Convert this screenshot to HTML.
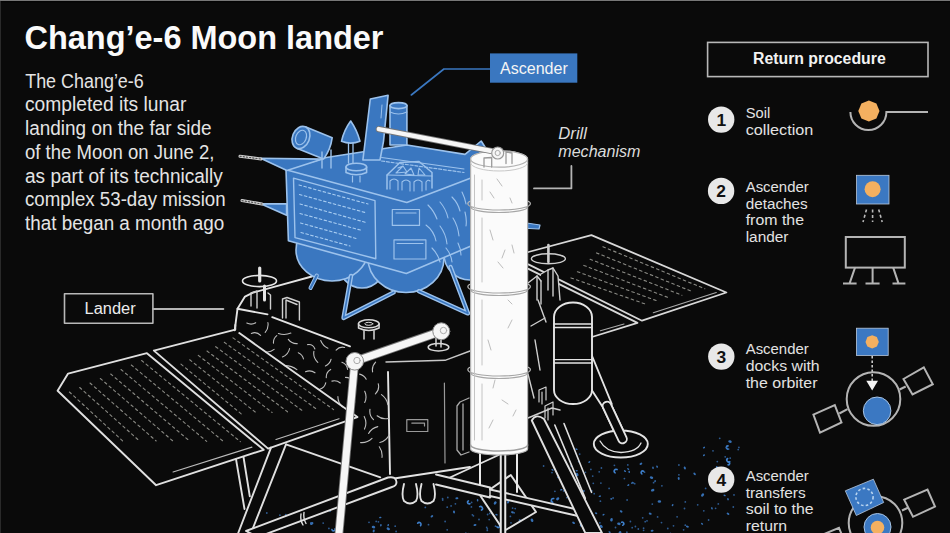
<!DOCTYPE html>
<html><head><meta charset="utf-8">
<style>
html,body{margin:0;padding:0;background:#0a0a0a;width:950px;height:533px;overflow:hidden}
svg{display:block}
text{font-family:"Liberation Sans",sans-serif}
</style></head>
<body>
<svg width="950" height="533" viewBox="0 0 950 533">
<rect x="0" y="0" width="950" height="533" fill="#0a0a0a"/>
<!-- ILLUSTRATION -->
<g id="illus" stroke-linejoin="round" stroke-linecap="round">
<g id="dust"><circle cx="554.9" cy="491.3" r="0.9" fill="#3468a8" opacity="0.85"/><circle cx="647.0" cy="520.8" r="0.9" fill="#3468a8" opacity="0.85"/><ellipse cx="728.0" cy="513.8" rx="1.5" ry="1.0" fill="#3b7bc6" opacity="0.9" transform="rotate(36 728.0 513.8)"/><circle cx="599.9" cy="522.8" r="0.9" fill="#3468a8" opacity="0.85"/><circle cx="733.3" cy="507.0" r="0.9" fill="#3468a8" opacity="0.85"/><path d="M551.3,500.4 a1.9,1.9 0 0 0 3.8,0" fill="none" stroke="#3f80cc" stroke-width="1.6" transform="rotate(105 553.2 500.4)"/><ellipse cx="670.8" cy="533.7" rx="1.2" ry="0.8" fill="#3b7bc6" opacity="0.9" transform="rotate(50 670.8 533.7)"/><ellipse cx="609.6" cy="532.2" rx="1.2" ry="0.8" fill="#3b7bc6" opacity="0.9" transform="rotate(44 609.6 532.2)"/><circle cx="592.7" cy="476.1" r="0.9" fill="#3468a8" opacity="0.85"/><ellipse cx="599.8" cy="496.2" rx="1.2" ry="0.8" fill="#3b7bc6" opacity="0.9" transform="rotate(166 599.8 496.2)"/><circle cx="708.6" cy="520.0" r="0.9" fill="#3468a8" opacity="0.85"/><ellipse cx="716.8" cy="479.2" rx="1.2" ry="0.8" fill="#3b7bc6" opacity="0.9" transform="rotate(85 716.8 479.2)"/><circle cx="614.4" cy="465.3" r="0.9" fill="#3468a8" opacity="0.85"/><circle cx="684.5" cy="508.5" r="0.9" fill="#3468a8" opacity="0.85"/><circle cx="634.7" cy="483.7" r="0.9" fill="#3468a8" opacity="0.85"/><ellipse cx="652.1" cy="530.8" rx="1.5" ry="1.0" fill="#3b7bc6" opacity="0.9" transform="rotate(169 652.1 530.8)"/><circle cx="613.1" cy="498.0" r="0.9" fill="#3468a8" opacity="0.85"/><circle cx="734.0" cy="494.9" r="0.9" fill="#3468a8" opacity="0.85"/><ellipse cx="650.2" cy="513.7" rx="1.5" ry="1.0" fill="#3b7bc6" opacity="0.9" transform="rotate(19 650.2 513.7)"/><circle cx="580.7" cy="510.1" r="0.9" fill="#3468a8" opacity="0.85"/><circle cx="715.6" cy="508.3" r="0.9" fill="#3468a8" opacity="0.85"/><circle cx="644.5" cy="534.1" r="0.9" fill="#3468a8" opacity="0.85"/><circle cx="626.9" cy="532.2" r="0.9" fill="#3468a8" opacity="0.85"/><circle cx="632.2" cy="527.7" r="0.9" fill="#3468a8" opacity="0.85"/><circle cx="720.3" cy="477.2" r="0.9" fill="#3468a8" opacity="0.85"/><circle cx="565.1" cy="507.9" r="0.9" fill="#3468a8" opacity="0.85"/><circle cx="705.6" cy="488.4" r="0.9" fill="#3468a8" opacity="0.85"/><circle cx="573.4" cy="489.5" r="0.9" fill="#3468a8" opacity="0.85"/><circle cx="599.2" cy="471.8" r="0.9" fill="#3468a8" opacity="0.85"/><ellipse cx="557.7" cy="498.8" rx="1.8" ry="1.3" fill="#3b7bc6" opacity="0.9" transform="rotate(136 557.7 498.8)"/><circle cx="683.6" cy="529.8" r="0.9" fill="#3468a8" opacity="0.85"/><circle cx="609.1" cy="488.4" r="0.9" fill="#3468a8" opacity="0.85"/><ellipse cx="657.1" cy="466.7" rx="1.2" ry="0.8" fill="#3b7bc6" opacity="0.9" transform="rotate(66 657.1 466.7)"/><circle cx="600.4" cy="501.2" r="0.9" fill="#3468a8" opacity="0.85"/><circle cx="627.1" cy="500.0" r="0.9" fill="#3468a8" opacity="0.85"/><ellipse cx="629.2" cy="471.9" rx="1.2" ry="0.8" fill="#3b7bc6" opacity="0.9" transform="rotate(83 629.2 471.9)"/><circle cx="652.3" cy="504.1" r="0.9" fill="#3468a8" opacity="0.85"/><circle cx="587.1" cy="510.1" r="0.9" fill="#3468a8" opacity="0.85"/><ellipse cx="652.7" cy="490.2" rx="1.8" ry="1.3" fill="#3b7bc6" opacity="0.9" transform="rotate(163 652.7 490.2)"/><circle cx="563.6" cy="490.9" r="0.9" fill="#3468a8" opacity="0.85"/><circle cx="677.1" cy="516.8" r="0.9" fill="#3468a8" opacity="0.85"/><circle cx="615.5" cy="527.5" r="0.9" fill="#3468a8" opacity="0.85"/><circle cx="638.3" cy="529.0" r="0.9" fill="#3468a8" opacity="0.85"/><circle cx="661.9" cy="485.8" r="0.9" fill="#3468a8" opacity="0.85"/><ellipse cx="687.4" cy="526.6" rx="1.5" ry="1.0" fill="#3b7bc6" opacity="0.9" transform="rotate(15 687.4 526.6)"/><ellipse cx="618.9" cy="523.8" rx="1.8" ry="1.3" fill="#3b7bc6" opacity="0.9" transform="rotate(10 618.9 523.8)"/><ellipse cx="702.1" cy="523.8" rx="1.2" ry="0.8" fill="#3b7bc6" opacity="0.9" transform="rotate(37 702.1 523.8)"/><path d="M641.1,472.6 a1.6,1.6 0 0 0 3.2,0" fill="none" stroke="#3f80cc" stroke-width="1.6" transform="rotate(123 642.7 472.6)"/><circle cx="586.9" cy="514.8" r="0.9" fill="#3468a8" opacity="0.85"/><ellipse cx="583.8" cy="491.0" rx="1.2" ry="0.8" fill="#3b7bc6" opacity="0.9" transform="rotate(174 583.8 491.0)"/><ellipse cx="728.0" cy="499.2" rx="1.2" ry="0.8" fill="#3b7bc6" opacity="0.9" transform="rotate(75 728.0 499.2)"/><circle cx="643.6" cy="528.2" r="0.9" fill="#3468a8" opacity="0.85"/><circle cx="555.9" cy="508.8" r="0.9" fill="#3468a8" opacity="0.85"/><ellipse cx="596.1" cy="532.2" rx="1.2" ry="0.8" fill="#3b7bc6" opacity="0.9" transform="rotate(41 596.1 532.2)"/><circle cx="582.2" cy="517.5" r="0.9" fill="#3468a8" opacity="0.85"/><ellipse cx="601.2" cy="526.4" rx="1.8" ry="1.3" fill="#3b7bc6" opacity="0.9" transform="rotate(45 601.2 526.4)"/><ellipse cx="587.1" cy="505.5" rx="1.5" ry="1.0" fill="#3b7bc6" opacity="0.9" transform="rotate(96 587.1 505.5)"/><circle cx="653.6" cy="482.7" r="0.9" fill="#3468a8" opacity="0.85"/><circle cx="673.5" cy="525.8" r="0.9" fill="#3468a8" opacity="0.85"/><circle cx="657.6" cy="516.9" r="0.9" fill="#3468a8" opacity="0.85"/><path d="M620.6,523.7 a1.6,1.6 0 0 0 3.2,0" fill="none" stroke="#3f80cc" stroke-width="1.6" transform="rotate(249 622.2 523.7)"/><circle cx="661.5" cy="522.6" r="0.9" fill="#3468a8" opacity="0.85"/><circle cx="624.4" cy="478.6" r="0.9" fill="#3468a8" opacity="0.85"/><circle cx="685.3" cy="501.9" r="0.9" fill="#3468a8" opacity="0.85"/><ellipse cx="573.6" cy="522.8" rx="1.5" ry="1.0" fill="#3b7bc6" opacity="0.9" transform="rotate(26 573.6 522.8)"/><ellipse cx="621.1" cy="511.4" rx="1.5" ry="1.0" fill="#3b7bc6" opacity="0.9" transform="rotate(35 621.1 511.4)"/><ellipse cx="653.0" cy="467.8" rx="1.2" ry="0.8" fill="#3b7bc6" opacity="0.9" transform="rotate(82 653.0 467.8)"/><ellipse cx="678.7" cy="478.4" rx="1.5" ry="1.0" fill="#3b7bc6" opacity="0.9" transform="rotate(83 678.7 478.4)"/><ellipse cx="641.5" cy="535.6" rx="1.5" ry="1.0" fill="#3b7bc6" opacity="0.9" transform="rotate(100 641.5 535.6)"/><circle cx="593.3" cy="483.3" r="0.9" fill="#3468a8" opacity="0.85"/><circle cx="611.2" cy="498.8" r="0.9" fill="#3468a8" opacity="0.85"/><ellipse cx="589.4" cy="514.0" rx="1.8" ry="1.3" fill="#3b7bc6" opacity="0.9" transform="rotate(180 589.4 514.0)"/><circle cx="594.2" cy="493.7" r="0.9" fill="#3468a8" opacity="0.85"/><ellipse cx="581.2" cy="524.9" rx="1.8" ry="1.3" fill="#3b7bc6" opacity="0.9" transform="rotate(115 581.2 524.9)"/><ellipse cx="596.1" cy="513.2" rx="1.2" ry="0.8" fill="#3b7bc6" opacity="0.9" transform="rotate(26 596.1 513.2)"/><circle cx="630.4" cy="521.5" r="0.9" fill="#3468a8" opacity="0.85"/><ellipse cx="659.4" cy="501.5" rx="1.8" ry="1.3" fill="#3b7bc6" opacity="0.9" transform="rotate(2 659.4 501.5)"/><circle cx="678.9" cy="465.0" r="0.9" fill="#3468a8" opacity="0.85"/><circle cx="601.4" cy="468.0" r="0.9" fill="#3468a8" opacity="0.85"/><path d="M614.2,471.2 a1.9,1.9 0 0 0 3.8,0" fill="none" stroke="#3f80cc" stroke-width="1.6" transform="rotate(120 616.1 471.2)"/><ellipse cx="655.1" cy="481.1" rx="1.2" ry="0.8" fill="#3b7bc6" opacity="0.9" transform="rotate(100 655.1 481.1)"/><ellipse cx="578.6" cy="501.2" rx="1.5" ry="1.0" fill="#3b7bc6" opacity="0.9" transform="rotate(127 578.6 501.2)"/><ellipse cx="632.1" cy="482.9" rx="1.2" ry="0.8" fill="#3b7bc6" opacity="0.9" transform="rotate(121 632.1 482.9)"/><ellipse cx="651.5" cy="477.6" rx="1.8" ry="1.3" fill="#3b7bc6" opacity="0.9" transform="rotate(23 651.5 477.6)"/><ellipse cx="640.9" cy="463.8" rx="1.5" ry="1.0" fill="#3b7bc6" opacity="0.9" transform="rotate(149 640.9 463.8)"/><circle cx="641.1" cy="535.1" r="0.9" fill="#3468a8" opacity="0.85"/><circle cx="722.6" cy="481.5" r="0.9" fill="#3468a8" opacity="0.85"/><circle cx="721.5" cy="480.5" r="0.9" fill="#3468a8" opacity="0.85"/><circle cx="582.3" cy="524.4" r="0.9" fill="#3468a8" opacity="0.85"/><circle cx="627.8" cy="464.9" r="0.9" fill="#3468a8" opacity="0.85"/><circle cx="697.7" cy="504.8" r="0.9" fill="#3468a8" opacity="0.85"/><ellipse cx="619.9" cy="532.8" rx="1.8" ry="1.3" fill="#3b7bc6" opacity="0.9" transform="rotate(120 619.9 532.8)"/><ellipse cx="603.5" cy="514.7" rx="1.2" ry="0.8" fill="#3b7bc6" opacity="0.9" transform="rotate(147 603.5 514.7)"/><circle cx="633.3" cy="482.9" r="0.9" fill="#3468a8" opacity="0.85"/><ellipse cx="711.9" cy="508.3" rx="1.2" ry="0.8" fill="#3b7bc6" opacity="0.9" transform="rotate(70 711.9 508.3)"/><circle cx="703.8" cy="510.8" r="0.9" fill="#3468a8" opacity="0.85"/><ellipse cx="702.6" cy="495.0" rx="1.8" ry="1.3" fill="#3b7bc6" opacity="0.9" transform="rotate(129 702.6 495.0)"/><circle cx="635.4" cy="526.5" r="0.9" fill="#3468a8" opacity="0.85"/><circle cx="718.3" cy="503.9" r="0.9" fill="#3468a8" opacity="0.85"/><circle cx="642.7" cy="517.8" r="0.9" fill="#3468a8" opacity="0.85"/><circle cx="729.2" cy="483.2" r="0.9" fill="#3468a8" opacity="0.85"/><ellipse cx="561.3" cy="489.8" rx="1.2" ry="0.8" fill="#3b7bc6" opacity="0.9" transform="rotate(159 561.3 489.8)"/><ellipse cx="684.8" cy="468.0" rx="1.5" ry="1.0" fill="#3b7bc6" opacity="0.9" transform="rotate(67 684.8 468.0)"/><circle cx="594.0" cy="529.4" r="0.9" fill="#3468a8" opacity="0.85"/><ellipse cx="628.2" cy="469.0" rx="1.2" ry="0.8" fill="#3b7bc6" opacity="0.9" transform="rotate(41 628.2 469.0)"/><circle cx="685.3" cy="525.2" r="0.9" fill="#3468a8" opacity="0.85"/><circle cx="591.8" cy="491.0" r="0.9" fill="#3468a8" opacity="0.85"/><circle cx="644.5" cy="472.2" r="0.9" fill="#3468a8" opacity="0.85"/><circle cx="645.2" cy="521.7" r="0.9" fill="#3468a8" opacity="0.85"/><circle cx="611.4" cy="498.8" r="0.9" fill="#3468a8" opacity="0.85"/><ellipse cx="672.6" cy="505.1" rx="1.2" ry="0.8" fill="#3b7bc6" opacity="0.9" transform="rotate(115 672.6 505.1)"/><circle cx="566.9" cy="497.6" r="0.9" fill="#3468a8" opacity="0.85"/><circle cx="600.9" cy="483.1" r="0.9" fill="#3468a8" opacity="0.85"/><ellipse cx="611.5" cy="519.8" rx="1.8" ry="1.3" fill="#3b7bc6" opacity="0.9" transform="rotate(100 611.5 519.8)"/><circle cx="643.6" cy="530.3" r="0.9" fill="#3468a8" opacity="0.85"/><ellipse cx="628.3" cy="485.1" rx="1.2" ry="0.8" fill="#3b7bc6" opacity="0.9" transform="rotate(144 628.3 485.1)"/><circle cx="678.9" cy="474.8" r="0.9" fill="#3468a8" opacity="0.85"/><ellipse cx="625.0" cy="471.1" rx="1.2" ry="0.8" fill="#3b7bc6" opacity="0.9" transform="rotate(32 625.0 471.1)"/><circle cx="667.8" cy="528.5" r="0.9" fill="#3468a8" opacity="0.85"/><circle cx="590.9" cy="469.4" r="0.9" fill="#3468a8" opacity="0.85"/><ellipse cx="456.9" cy="498.3" rx="1.5" ry="1.0" fill="#3b7bc6" opacity="0.9" transform="rotate(176 456.9 498.3)"/><ellipse cx="475.0" cy="525.0" rx="1.5" ry="1.0" fill="#3b7bc6" opacity="0.9" transform="rotate(173 475.0 525.0)"/><ellipse cx="496.5" cy="514.7" rx="1.2" ry="0.8" fill="#3b7bc6" opacity="0.9" transform="rotate(10 496.5 514.7)"/><circle cx="495.5" cy="526.2" r="0.9" fill="#3468a8" opacity="0.85"/><ellipse cx="495.2" cy="502.9" rx="1.8" ry="1.3" fill="#3b7bc6" opacity="0.9" transform="rotate(123 495.2 502.9)"/><circle cx="489.2" cy="519.6" r="0.9" fill="#3468a8" opacity="0.85"/><circle cx="521.3" cy="503.2" r="0.9" fill="#3468a8" opacity="0.85"/><circle cx="471.6" cy="502.4" r="0.9" fill="#3468a8" opacity="0.85"/><circle cx="425.3" cy="507.4" r="0.9" fill="#3468a8" opacity="0.85"/><circle cx="465.8" cy="533.2" r="0.9" fill="#3468a8" opacity="0.85"/><ellipse cx="508.1" cy="502.1" rx="1.5" ry="1.0" fill="#3b7bc6" opacity="0.9" transform="rotate(110 508.1 502.1)"/><circle cx="511.0" cy="522.8" r="0.9" fill="#3468a8" opacity="0.85"/><ellipse cx="454.0" cy="511.9" rx="1.5" ry="1.0" fill="#3b7bc6" opacity="0.9" transform="rotate(82 454.0 511.9)"/><circle cx="487.3" cy="528.8" r="0.9" fill="#3468a8" opacity="0.85"/><circle cx="479.0" cy="519.5" r="0.9" fill="#3468a8" opacity="0.85"/><circle cx="512.6" cy="508.1" r="0.9" fill="#3468a8" opacity="0.85"/><path d="M499.9,527.7 a1.6,1.6 0 0 0 3.2,0" fill="none" stroke="#3f80cc" stroke-width="1.6" transform="rotate(209 501.5 527.7)"/><ellipse cx="431.9" cy="516.3" rx="1.5" ry="1.0" fill="#3b7bc6" opacity="0.9" transform="rotate(142 431.9 516.3)"/><ellipse cx="532.0" cy="520.3" rx="1.8" ry="1.3" fill="#3b7bc6" opacity="0.9" transform="rotate(64 532.0 520.3)"/><ellipse cx="467.7" cy="534.1" rx="1.5" ry="1.0" fill="#3b7bc6" opacity="0.9" transform="rotate(146 467.7 534.1)"/><circle cx="512.1" cy="500.3" r="0.9" fill="#3468a8" opacity="0.85"/><circle cx="510.4" cy="516.4" r="0.9" fill="#3468a8" opacity="0.85"/><ellipse cx="520.1" cy="520.4" rx="1.5" ry="1.0" fill="#3b7bc6" opacity="0.9" transform="rotate(16 520.1 520.4)"/><circle cx="472.4" cy="514.8" r="0.9" fill="#3468a8" opacity="0.85"/><circle cx="487.6" cy="514.5" r="0.9" fill="#3468a8" opacity="0.85"/><ellipse cx="504.6" cy="498.5" rx="1.5" ry="1.0" fill="#3b7bc6" opacity="0.9" transform="rotate(78 504.6 498.5)"/><ellipse cx="502.3" cy="497.8" rx="1.2" ry="0.8" fill="#3b7bc6" opacity="0.9" transform="rotate(123 502.3 497.8)"/><circle cx="428.5" cy="524.7" r="0.9" fill="#3468a8" opacity="0.85"/><circle cx="489.7" cy="513.4" r="0.9" fill="#3468a8" opacity="0.85"/><circle cx="486.7" cy="527.3" r="0.9" fill="#3468a8" opacity="0.85"/><circle cx="442.7" cy="500.0" r="0.9" fill="#3468a8" opacity="0.85"/><circle cx="451.1" cy="505.9" r="0.9" fill="#3468a8" opacity="0.85"/><circle cx="515.2" cy="508.6" r="0.9" fill="#3468a8" opacity="0.85"/><circle cx="447.2" cy="529.8" r="0.9" fill="#3468a8" opacity="0.85"/><ellipse cx="477.6" cy="500.2" rx="1.2" ry="0.8" fill="#3b7bc6" opacity="0.9" transform="rotate(88 477.6 500.2)"/><circle cx="502.3" cy="519.7" r="0.9" fill="#3468a8" opacity="0.85"/><circle cx="473.4" cy="515.8" r="0.9" fill="#3468a8" opacity="0.85"/><circle cx="445.1" cy="521.5" r="0.9" fill="#3468a8" opacity="0.85"/><ellipse cx="512.4" cy="512.3" rx="1.5" ry="1.0" fill="#3b7bc6" opacity="0.9" transform="rotate(17 512.4 512.3)"/><path d="M478.7,508.4 a1.9,1.9 0 0 0 3.8,0" fill="none" stroke="#3f80cc" stroke-width="1.6" transform="rotate(242 480.6 508.4)"/><circle cx="514.2" cy="512.8" r="0.9" fill="#3468a8" opacity="0.85"/><circle cx="471.4" cy="506.9" r="0.9" fill="#3468a8" opacity="0.85"/><circle cx="447.8" cy="497.5" r="0.9" fill="#3468a8" opacity="0.85"/><path d="M496.6,525.9 a1.6,1.6 0 0 0 3.2,0" fill="none" stroke="#3f80cc" stroke-width="1.6" transform="rotate(324 498.2 525.9)"/><circle cx="442.6" cy="498.7" r="0.9" fill="#3468a8" opacity="0.85"/><circle cx="447.2" cy="507.2" r="0.9" fill="#3468a8" opacity="0.85"/><path d="M467.6,502.3 a1.6,1.6 0 0 0 3.2,0" fill="none" stroke="#3f80cc" stroke-width="1.6" transform="rotate(62 469.2 502.3)"/><circle cx="512.5" cy="500.8" r="0.9" fill="#3468a8" opacity="0.85"/><circle cx="455.4" cy="503.8" r="0.9" fill="#3468a8" opacity="0.85"/><circle cx="487.3" cy="530.4" r="0.9" fill="#3468a8" opacity="0.85"/><ellipse cx="717.0" cy="467.5" rx="1.5" ry="1.0" fill="#3b7bc6" opacity="0.9" transform="rotate(72 717.0 467.5)"/><ellipse cx="704.0" cy="455.2" rx="1.2" ry="0.8" fill="#3b7bc6" opacity="0.9" transform="rotate(137 704.0 455.2)"/><ellipse cx="694.6" cy="473.8" rx="1.5" ry="1.0" fill="#3b7bc6" opacity="0.9" transform="rotate(48 694.6 473.8)"/><circle cx="719.7" cy="438.3" r="0.9" fill="#3468a8" opacity="0.85"/><path d="M726.8,460.1 a1.9,1.9 0 0 0 3.8,0" fill="none" stroke="#3f80cc" stroke-width="1.6" transform="rotate(56 728.7 460.1)"/><ellipse cx="724.6" cy="495.4" rx="1.2" ry="0.8" fill="#3b7bc6" opacity="0.9" transform="rotate(29 724.6 495.4)"/><path d="M726.3,447.5 a1.6,1.6 0 0 0 3.2,0" fill="none" stroke="#3f80cc" stroke-width="1.6" transform="rotate(94 727.9 447.5)"/><circle cx="738.2" cy="449.6" r="0.9" fill="#3468a8" opacity="0.85"/><circle cx="728.6" cy="449.1" r="0.9" fill="#3468a8" opacity="0.85"/><circle cx="730.2" cy="458.1" r="0.9" fill="#3468a8" opacity="0.85"/><circle cx="717.3" cy="461.6" r="0.9" fill="#3468a8" opacity="0.85"/><circle cx="726.5" cy="447.6" r="0.9" fill="#3468a8" opacity="0.85"/><ellipse cx="730.0" cy="441.6" rx="1.8" ry="1.3" fill="#3b7bc6" opacity="0.9" transform="rotate(16 730.0 441.6)"/><circle cx="725.2" cy="456.8" r="0.9" fill="#3468a8" opacity="0.85"/><circle cx="726.3" cy="471.4" r="0.9" fill="#3468a8" opacity="0.85"/><circle cx="738.9" cy="447.4" r="0.9" fill="#3468a8" opacity="0.85"/><ellipse cx="729.3" cy="485.0" rx="1.8" ry="1.3" fill="#3b7bc6" opacity="0.9" transform="rotate(119 729.3 485.0)"/><path d="M726.5,463.3 a1.6,1.6 0 0 0 3.2,0" fill="none" stroke="#3f80cc" stroke-width="1.6" transform="rotate(272 728.1 463.3)"/><ellipse cx="704.0" cy="447.6" rx="1.2" ry="0.8" fill="#3b7bc6" opacity="0.9" transform="rotate(143 704.0 447.6)"/><circle cx="713.0" cy="450.8" r="0.9" fill="#3468a8" opacity="0.85"/><ellipse cx="285.0" cy="526.6" rx="1.5" ry="1.0" fill="#3b7bc6" opacity="0.9" transform="rotate(168 285.0 526.6)"/><circle cx="266.8" cy="513.0" r="0.9" fill="#3468a8" opacity="0.85"/><circle cx="328.9" cy="528.4" r="0.9" fill="#3468a8" opacity="0.85"/><ellipse cx="311.7" cy="523.5" rx="1.8" ry="1.3" fill="#3b7bc6" opacity="0.9" transform="rotate(159 311.7 523.5)"/><path d="M284.5,524.8 a1.6,1.6 0 0 0 3.2,0" fill="none" stroke="#3f80cc" stroke-width="1.6" transform="rotate(184 286.1 524.8)"/><circle cx="330.1" cy="511.1" r="0.9" fill="#3468a8" opacity="0.85"/><circle cx="323.2" cy="523.1" r="0.9" fill="#3468a8" opacity="0.85"/><circle cx="279.9" cy="515.2" r="0.9" fill="#3468a8" opacity="0.85"/><circle cx="311.0" cy="523.0" r="0.9" fill="#3468a8" opacity="0.85"/><circle cx="269.5" cy="524.8" r="0.9" fill="#3468a8" opacity="0.85"/><path d="M331.9,529.2 a1.6,1.6 0 0 0 3.2,0" fill="none" stroke="#3f80cc" stroke-width="1.6" transform="rotate(346 333.5 529.2)"/><circle cx="285.8" cy="514.7" r="0.9" fill="#3468a8" opacity="0.85"/><circle cx="396.1" cy="531.5" r="0.9" fill="#3468a8" opacity="0.85"/><circle cx="378.4" cy="521.8" r="0.9" fill="#3468a8" opacity="0.85"/><circle cx="369.0" cy="522.3" r="0.9" fill="#3468a8" opacity="0.85"/><ellipse cx="388.2" cy="525.1" rx="1.2" ry="0.8" fill="#3b7bc6" opacity="0.9" transform="rotate(105 388.2 525.1)"/><ellipse cx="373.7" cy="530.9" rx="1.5" ry="1.0" fill="#3b7bc6" opacity="0.9" transform="rotate(107 373.7 530.9)"/><ellipse cx="388.3" cy="528.8" rx="1.8" ry="1.3" fill="#3b7bc6" opacity="0.9" transform="rotate(26 388.3 528.8)"/><ellipse cx="380.9" cy="525.2" rx="1.2" ry="0.8" fill="#3b7bc6" opacity="0.9" transform="rotate(93 380.9 525.2)"/><circle cx="395.2" cy="526.2" r="0.9" fill="#3468a8" opacity="0.85"/><ellipse cx="380.3" cy="517.5" rx="1.2" ry="0.8" fill="#3b7bc6" opacity="0.9" transform="rotate(171 380.3 517.5)"/><circle cx="376.2" cy="521.4" r="0.9" fill="#3468a8" opacity="0.85"/><ellipse cx="373.5" cy="527.1" rx="1.8" ry="1.3" fill="#3b7bc6" opacity="0.9" transform="rotate(15 373.5 527.1)"/><path d="M417.2,524.4 a1.9,1.9 0 0 0 3.8,0" fill="none" stroke="#3f80cc" stroke-width="1.6" transform="rotate(221 419.1 524.4)"/><ellipse cx="576.5" cy="449.2" rx="1.2" ry="0.8" fill="#3b7bc6" opacity="0.9" transform="rotate(17 576.5 449.2)"/><ellipse cx="589.3" cy="462.0" rx="1.2" ry="0.8" fill="#3b7bc6" opacity="0.9" transform="rotate(132 589.3 462.0)"/><circle cx="578.7" cy="461.5" r="0.9" fill="#3468a8" opacity="0.85"/><ellipse cx="576.7" cy="470.8" rx="1.2" ry="0.8" fill="#3b7bc6" opacity="0.9" transform="rotate(0 576.7 470.8)"/><ellipse cx="577.1" cy="474.6" rx="1.8" ry="1.3" fill="#3b7bc6" opacity="0.9" transform="rotate(64 577.1 474.6)"/><circle cx="549.7" cy="446.8" r="0.9" fill="#3468a8" opacity="0.85"/><circle cx="579.7" cy="454.1" r="0.9" fill="#3468a8" opacity="0.85"/><ellipse cx="552.5" cy="469.9" rx="1.2" ry="0.8" fill="#3b7bc6" opacity="0.9" transform="rotate(27 552.5 469.9)"/><circle cx="552.0" cy="472.6" r="0.9" fill="#3468a8" opacity="0.85"/><circle cx="585.4" cy="472.3" r="0.9" fill="#3468a8" opacity="0.85"/><circle cx="554.4" cy="461.7" r="0.9" fill="#3468a8" opacity="0.85"/><circle cx="571.1" cy="465.9" r="0.9" fill="#3468a8" opacity="0.85"/><circle cx="557.8" cy="477.3" r="0.9" fill="#3468a8" opacity="0.85"/><circle cx="559.0" cy="464.2" r="0.9" fill="#3468a8" opacity="0.85"/><circle cx="543.6" cy="466.0" r="0.9" fill="#3468a8" opacity="0.85"/></g>

<!-- right solar panel -->
<g fill="none" stroke="#d8d8d8" stroke-width="1.8">
<path d="M528.4,252 L591.4,235.1 L726.4,292.5 L642,320.7 L528.4,264.4"/>
<path d="M528.4,268.9 L637.5,322.9 L590.3,337.5"/>
<path d="M653.3,312.8 L716.3,292.5 M600.4,330.8 L624,324" stroke-width="1.1" stroke="#aaa"/>
</g>
<path d="M602.9,246.7 L704.8,288.8 M596.5,252.9 L693.3,292.0 M590.1,259.2 L681.9,295.2 M583.8,265.4 L670.4,298.4 M577.4,271.7 L659.0,301.6 M571.0,277.9 L647.5,304.8" stroke="#8a8a84" stroke-width="1.1" stroke-dasharray="2.6 3.2" fill="none"/>

<!-- body right structure behind cylinder -->
<path d="M528,283 L537,276 L541,281 L541,274 L548,270 L553,268 L558,276 L560,300 L556,430 L528,430 Z" fill="#0a0a0a"/>
<g fill="none" stroke="#cfcfcf" stroke-width="1.4">
<path d="M528,283 L537,276 L541,281 M541,274 L548,270 L553,268 L558,276 L560,300"/>
<path d="M537,276 L537,300 M541,281 L541,304 M548,270 L548,290 M553,268 L553,296"/>
<path d="M538,300 L546,322 M531,326 L545,318 M535,340 L540,370 M528,374 L534,398"/>
<ellipse cx="548.4" cy="258.8" rx="17" ry="5"/>
<path d="M548.4,245 L548.4,262" stroke-width="2.6"/>
<path d="M539,402 L539,390 L546,387 L546,400 M542,404 L542,392 M545,418 L545,406 L553,402 L553,415 M548,420 L548,408" stroke-width="1.2"/>
<path d="M528,418 L552,408 L560,410"/>
</g>
<!-- lander body outlines -->
<g fill="none" stroke="#e4e4e4" stroke-width="1.9">
<path d="M234.7,330.3 L237.5,308.8 L245,296.6 L252.5,292.8 L311.8,276.5"/>
<path d="M237.5,308.8 L267.5,314.4"/>
<path d="M272.2,317.2 L350,346.3"/>
<path d="M386,362 L445,360.3 L470,351" stroke-width="1.4" stroke="#c8c8c8"/>
<path d="M388,372 L390,474"/>
<path d="M444.4,383 L445,463" stroke-width="1.2" stroke="#999"/>
<path d="M469,398 L460,402 L457,406 L457,450 L461,455 L469,452 M463,404 L463,450" stroke-width="1.3" stroke="#aaa"/>

<path d="M390.8,479 L470,467"/>
<path d="M406.8,419.7 L427.8,419.7 L427.8,431.5 L406.8,431.5 Z M411.8,423.1 L424.5,423.1 L424.5,426" stroke-width="1.2" stroke="#999"/>

<path d="M282.5,318 L282.5,299 L287,297.5 L299.4,302 L299.4,320 M286,300 L286,318 M286,300 L297,304.5" stroke-width="1.4" stroke="#d0d0d0"/>
<path d="M259.7,268 L259.7,281" stroke-width="3.2"/>
<ellipse cx="259.5" cy="281" rx="17" ry="5.6" stroke-width="1.6"/>
<path d="M264.5,286 L264.5,300" stroke-width="3"/>
<path d="M251,306 L251,293 L257,291 M270.5,309 L270.5,295 L268,293 M257,291 L257,308" stroke-width="1.4" stroke="#cfcfcf"/>
</g>
<!-- crinkles -->
<path d="M378.2,383.7 Q379.9,389.6 375.4,393.9 M370.0,409.2 Q369.0,415.4 373.5,419.6 M364.7,391.3 Q367.4,396.9 364.7,402.5 M341.9,362.3 Q347.0,364.2 347.6,369.5 M251.3,333.4 Q256.7,331.2 260.6,335.4 M353.1,355.4 Q352.5,360.6 357.3,362.7 M325.8,382.7 Q324.7,387.8 319.8,389.3 M359.6,374.1 Q364.1,375.1 366.2,379.3 M289.6,348.5 Q288.4,354.7 282.4,356.9 M379.3,446.8 Q382.7,451.6 382.0,457.4 M313.9,351.3 Q312.8,357.9 317.8,362.3 M331.1,359.2 Q330.0,364.0 325.4,366.0 M298.3,352.7 Q302.5,354.5 303.5,359.0 M305.5,371.8 Q310.6,369.6 315.0,372.8 M377.8,426.6 Q371.7,428.0 368.6,433.5 M344.6,347.5 Q339.6,346.2 336.1,350.1 M274.1,349.4 Q270.2,352.7 265.2,351.7 M276.8,335.6 Q273.1,338.6 273.5,343.2 M348.6,396.6 Q349.9,401.4 354.8,402.0 M284.6,365.6 Q291.5,365.4 296.9,369.6 M381.5,394.6 Q386.8,398.3 387.8,404.7 M364.2,416.4 Q367.5,422.7 364.5,429.1 M307.6,344.6 Q313.0,343.8 314.9,349.0 M345.5,377.4 Q350.7,377.4 353.3,381.8 M290.9,333.1 Q284.7,335.7 278.4,333.5 M330.7,369.4 Q325.8,372.2 326.3,377.7 M288.3,339.4 Q291.7,343.9 297.2,343.6 M337.9,396.6 Q337.8,402.7 342.3,406.8 M375.6,362.1 Q371.6,366.2 372.6,371.9 M377.1,415.8 Q382.4,420.1 388.9,418.2 M372.0,438.4 Q367.3,443.1 360.6,442.6 M267.9,322.5 Q268.9,328.1 265.2,332.4 M389.1,435.1 Q386.3,441.1 379.8,442.5 M255.7,322.7 Q251.4,325.3 246.8,323.0 M320.7,340.5 Q322.8,345.8 327.9,348.3 M331.9,381.1 Q336.6,379.9 340.3,383.0" fill="none" stroke="#bdbdbd" stroke-width="1.1" stroke-linecap="round"/>

<!-- left solar panels -->
<g fill="none" stroke="#e0e0e0" stroke-width="1.9">
<path d="M146.9,353.2 L68.1,373.6 L57.6,390.7 L156.1,485.2 L263.7,449.8 Z"/>
<path d="M173.1,472 L251.9,447.1" stroke-width="1.2" stroke="#bbb"/>
<path d="M153.9,350.6 L235.3,329.6 L235.3,325 M239.3,333.1 L357.4,417.1 L268.1,448.6 L153.9,350.6"/>
<path d="M276,439.5 L339,418.8" stroke-width="1.2" stroke="#bbb"/>
</g>
<path d="M181.0,364.2 L241.4,414.0 M189.7,359.8 L256.8,413.3 M198.3,355.4 L272.1,412.5 M207.0,351.0 L287.5,411.8 M215.7,346.7 L302.9,411.1 M224.3,342.3 L318.2,410.3 M233.0,337.9 L333.6,409.6" stroke="#8a8a84" stroke-width="1.1" stroke-dasharray="2.6 3.2" fill="none"/>

<path d="M69.4,392.0 L122.6,440.8 M79.7,387.5 L139.4,440.9 M90.0,383.0 L156.2,441.0 M100.3,378.5 L173.0,441.1 M110.7,374.0 L189.9,441.3 M121.0,369.5 L206.7,441.4 M131.3,365.0 L223.5,441.5 M141.6,360.5 L240.3,441.6" stroke="#8a8a84" stroke-width="1.1" stroke-dasharray="2.6 3.2" fill="none"/>

<!-- struts -->
<g fill="none" stroke="#e0e0e0" stroke-width="1.9">
<path d="M236,459.2 L244.5,509 M243.5,457 L249.8,496.4"/>
<path d="M271,447.6 L238.2,533 M286,444.4 L251,533"/>
<path d="M286,444.4 L380.3,477.3"/>
<path d="M246,531 L388,477.5 Q396,476 396.5,482 Q396.5,486 392,487 L258,537 Z" fill="#0a0a0a"/>
<path d="M301,514 Q300,520 303,525 M304,512.5 Q303,518 306,523.5" stroke-width="1.4"/>
<path d="M438,483 L498.7,455"/>
<path d="M510.8,475 L536,512 L504,531 L480.5,496 Z" stroke-width="2"/>
<path d="M436,474.5 L490,487.5 L490,489.5 L577,509.5 Q582,512 578,516 L490,496 L490,497.5 L436,484.5" fill="#0a0a0a"/>
<path d="M490,487.5 L490,497.5" stroke-width="1.4"/>

<path d="M404,484 Q401,496 404,501 Q410,506 416,501 Q419,496 416,484"/>
<path d="M421.5,484 Q418.5,496 421.5,501 Q427.5,506 433.5,501 Q436.5,496 433.5,484"/>
</g>
<!-- cylinder frame -->
<g fill="none" stroke="#e8e8e8" stroke-width="2">
<path d="M480,452 L480,485 M517,452 L517,492"/>
<path d="M503,452 L503,533" stroke-width="6.5"/>
<path d="M503,452 L503,533" stroke-width="2.5" stroke="#0a0a0a"/>
</g>
<!-- long leg tubes right -->
<g fill="#0a0a0a" stroke="#e0e0e0" stroke-width="1.9">
<path d="M531.8,420.5 Q536,413 544,419 L602,533 L585.3,533 Z"/>
<path d="M554.8,425 L585.3,498.4 M564,423.5 L591.5,492.3" fill="none" stroke-width="1.6"/>
</g>
<!-- tank & leg -->
<g fill="#0a0a0a" stroke="#e4e4e4" stroke-width="1.9">
<path d="M607,406 L622.5,439" stroke-width="10.5" stroke="#e4e4e4"/><path d="M607,406 L622.5,439" stroke-width="6.8" stroke="#0a0a0a"/>
<path d="M590.4,352 L611.8,404 L604,409 L590.4,388 Z"/>
<ellipse cx="620.8" cy="444" rx="27" ry="13.5"/>
<path d="M600,441 Q606,452 621,452.5 Q637,452 641,443" fill="none" stroke-width="1.3"/>
<path d="M607,406 L622.5,439" stroke-width="10.5" stroke="#e4e4e4"/><path d="M607,406 L622.5,439" stroke-width="6.8" stroke="#0a0a0a"/>
<path d="M554,317 A19,14.5 0 0 1 592,317 L592,390 A19,14 0 0 1 554,390 Z"/>
<path d="M554,324 L592,324 M554,327.5 L592,327.5 M554,359.6 L592,359.6 M554,363 L592,363" fill="none" stroke-width="1.4"/>
</g>
<!-- BLUE ASCENDER -->
<g stroke="#9cc2ec" stroke-width="1.6" fill="#3a77c0">
<!-- tanks -->
<ellipse cx="470" cy="254" rx="26" ry="26"/>
<ellipse cx="362" cy="262" rx="24" ry="26"/>
<ellipse cx="332" cy="250" rx="36" ry="31"/>
<ellipse cx="406" cy="258" rx="38" ry="34.5"/>
<!-- legs -->
<path d="M316.8,275.5 L310.5,288" fill="none" stroke-width="4" stroke="#9cc2ec"/>
<path d="M316.8,275.5 L310.5,288" fill="none" stroke-width="2" stroke="#3a77c0"/>
<path d="M351,276 L343.5,318 L393.7,292.4 M450.5,267.1 L468,313.4 L419,291.3" fill="none" stroke-width="4.4" stroke="#9cc2ec"/>
<path d="M351,276 L343.5,318 L393.7,292.4 M450.5,267.1 L468,313.4 L419,291.3" fill="none" stroke-width="1.6" stroke="#3a77c0"/>
<!-- main box -->
<path d="M286,169.7 L326.3,157.5 L406.9,145 L465,154.4 L481.2,141 L485,147 L471,164 L471,246 L406.3,273.4 L288.4,240.8 Z"/>
<path d="M286,169.7 L406.8,202.5 L471,178" fill="none"/>
<path d="M293.5,178.1 L375,200.7 L375.8,258.7 L295,237.6 Z" fill="none" stroke-width="1.4"/>
<path d="M392.3,209.5 L419.5,209.5 L419.5,225.4 L392.3,225.4 Z M394,239.8 L425.9,239.8 L425.9,259 L394,259 Z M396,213 L416,213 M397,243.5 L423,243.5" fill="none" stroke-width="1.2"/>
<path d="M299,185 L368,204 M299.5,194.5 L367,213 M300,204 L366,222.5 M300,213.5 L362,230.5 M300.5,223 L358,239 M301,232.5 L350,246" fill="none" stroke-width="1.1" stroke-dasharray="2.6 2.4" stroke="#a8cdf2"/>
<!-- fins -->
<path d="M260.6,158.2 L322.5,159.1 L286.9,170.4 Z"/>
<path d="M261.2,203.9 L286.6,203.9 L286.6,215.2 Z"/>
<!-- camera -->
<g transform="rotate(22 301 137.5)">
<path d="M301,126 L330,126 Q333,137.5 330,149 L301,149 Z"/>
<ellipse cx="301" cy="137.5" rx="8.5" ry="11.5"/>
<ellipse cx="301" cy="137.5" rx="5.2" ry="7.5" fill="none" stroke-width="1.2"/>
</g>
<path d="M322,152 L322,168 M331,150 L331,168" fill="none" stroke-width="1.4"/>
<!-- cone -->
<path d="M350.7,121 Q357,130 360,141.3 Q350.7,145 341.5,141.3 Q344,130 350.7,121 Z"/>
<path d="M348.5,143 L348.5,163 M353,143 L353,163" fill="none" stroke-width="1.3"/>
<!-- plate -->
<path d="M370.3,99 L388.1,95.3 L383.5,141.3 L380,160 L362.9,160 Z"/>
<path d="M382,105 L381,118" fill="none" stroke-width="1"/>
<!-- tall cylinder -->
<path d="M390,105.6 L406.9,105.6 L406.9,145 L390,145 Z"/>
<ellipse cx="398.5" cy="105.6" rx="8.5" ry="3"/>
<path d="M390,112 Q398.5,116 406.9,112" fill="none" stroke-width="1.1"/>
<!-- hub -->
<path d="M346,167 L346,172.5 Q356.3,177 366.6,172.5 L366.6,167" />
<ellipse cx="356.3" cy="167" rx="10.3" ry="3.75"/>
<path d="M352.5,176 L352.5,182 M360,176 L360,182" fill="none" stroke-width="1.2"/>
<!-- dome -->
<path d="M387,189 L387,175 L400,162.5 L419,161.5 L432,172.5 L432,188" fill="none" stroke-width="1.5"/>
<path d="M387,175 L432,176" fill="none" stroke-width="1.2"/>
<path d="M396,173 L403,166 L407,172 Z M411,168 L414,175 L405,174 Z M419,168 L425,175 L418,175 Z M398,168 L403,166" fill="none" stroke-width="1.1"/>
<path d="M390,189 L390,181 Q394,177 398,181 L398,190 M402,190 L402,182 Q406,178 410,182 L410,191 M414,191 L414,182 Q418,178 422,182 L422,191 M426,190 L426,182 Q428,179 430,181" fill="none" stroke-width="1.1"/>
<!-- right face crinkles -->
<path d="M428,205 q6,6 9,14 M440,202 q6,7 8,16 M452,197 q6,6 8,14 M462,192 q3,6 4,12 M426,225 q8,6 10,16 M440,226 q6,8 7,18 M453,218 q5,8 6,18 M432,248 q6,6 8,14 M446,248 q5,6 6,14 M458,243 q3,6 3,12 M465,212 q2,8 1,14" fill="none" stroke-width="1.1"/>
<!-- deck lines -->
<path d="M381.6,161 L464,172.5" fill="none" stroke-width="1.2" stroke-dasharray="3 1.8"/>
<path d="M381.6,157.5 L464,169" fill="none" stroke-width="1.1"/>
</g>
<path d="M520,222 L540,225 L539,229 L520,228 Z" fill="#3a77c0" stroke="#9cc2ec" stroke-width="1.2"/>
<!-- antennas striped -->
<path d="M240,156.3 L261,159" stroke="#d0d0d0" stroke-width="3"/><path d="M240,156.3 L261,159" stroke="#555" stroke-width="1.2" stroke-dasharray="1.2 2"/>
<path d="M242,200.6 L262,204" stroke="#d0d0d0" stroke-width="3"/><path d="M242,200.6 L262,204" stroke="#555" stroke-width="1.2" stroke-dasharray="1.2 2"/>
<!-- WHITE CYLINDER -->
<g stroke="#b0b0b0" stroke-width="1.2">
<path d="M470.6,159 L470.6,449 A28.5,6 0 0 0 527.6,449 L527.6,159 A28.5,8.2 0 0 0 470.6,159 Z" fill="#fbfbfb"/>
<ellipse cx="499.1" cy="159" rx="28.5" ry="8.2" fill="#fbfbfb"/>
<path d="M470.6,163 A28.5,8 0 0 0 527.6,163" fill="none" stroke="#c8c8c8" stroke-width="1"/>

<path d="M468,204 A31,6 0 0 0 530.2,204 M470.6,207 A28.5,5.5 0 0 0 527.6,207" fill="none" stroke="#a6a6a6" stroke-width="1.2"/>
<path d="M468,204 A31,6 0 0 1 470.6,201 M530.2,204 A31,6 0 0 0 527.6,201" fill="none" stroke="#bbb" stroke-width="1.1"/>
<path d="M468,287 A31,6 0 0 0 530.2,287 M470.6,290 A28.5,5.5 0 0 0 527.6,290" fill="none" stroke="#a6a6a6" stroke-width="1.2"/>
<path d="M468,287 A31,6 0 0 1 470.6,284 M530.2,287 A31,6 0 0 0 527.6,284" fill="none" stroke="#bbb" stroke-width="1.1"/>
<path d="M468,370 A31,6 0 0 0 530.2,370 M470.6,373 A28.5,5.5 0 0 0 527.6,373" fill="none" stroke="#a6a6a6" stroke-width="1.2"/>
<path d="M468,370 A31,6 0 0 1 470.6,367 M530.2,370 A31,6 0 0 0 527.6,367" fill="none" stroke="#bbb" stroke-width="1.1"/>
<path d="M470.6,445 A28.5,6 0 0 0 527.6,445" fill="none" stroke="#a0a0a0" stroke-width="1.6"/>
<path d="M482,180 L482,200 M482,218 L482,282 M482,300 L482,365 M482,384 L482,440 M474.5,175 L474.5,440" fill="none" stroke="#c4c4c4" stroke-width="1"/>
<path d="M497,179 l5,7 M490,192 l4,6 M510,198 l2,5 M490,230 l3,10 M505,250 l-3,8 M498,262 l5,6 M512,320 l-4,8 M488,340 l3,10 M502,400 l6,4 M493,420 l-4,8 M512,245 l2,8 M508,300 l4,4 M495,380 l-2,8 M516,410 l-3,6" fill="none" stroke="#bdbdbd" stroke-width="1"/>
<path d="M484,167 L484,158 L491.7,157.5 L491.7,167 M506,163.5 L506,152 L512,153 L512,163.5" fill="none" stroke="#9a9a9a" stroke-width="1.3"/>
</g>
<!-- rod -->
<path d="M378.8,129.1 L494,151.5" stroke="#777" stroke-width="6.2"/>
<path d="M378.8,129.1 L494,151.5" stroke="#f6f6f6" stroke-width="4.4"/>
<circle cx="497.7" cy="153" r="6" fill="#f6f6f6" stroke="#999" stroke-width="1.2"/>
<circle cx="497.7" cy="153" r="2.6" fill="none" stroke="#aaa" stroke-width="1"/>
<!-- small instrument -->
<g fill="#0a0a0a" stroke="#d8d8d8" stroke-width="1.5">
<path d="M358.5,323.8 L358.5,328 Q368.8,333 379.1,328 L379.1,323.8"/>
<ellipse cx="368.8" cy="323.8" rx="10.3" ry="4"/>
<ellipse cx="368.8" cy="323.8" rx="4" ry="1.5" fill="none" stroke-width="1"/>
<path d="M364,331 L364,339 M374,331 L374,339" fill="none"/>
</g>
<!-- robotic arm -->
<g>
<ellipse cx="438.5" cy="347.2" rx="10.3" ry="3.75" fill="none" stroke="#d8d8d8" stroke-width="1.5"/>
<path d="M436,336 L436,346 M441,336 L441,347" stroke="#d8d8d8" stroke-width="1.5"/>
<path d="M441.3,331.3 L354.8,361.3" stroke="#777" stroke-width="9"/>
<path d="M441.3,331.3 L354.8,361.3" stroke="#f6f6f6" stroke-width="7.2"/>
<path d="M354.8,361.3 L339,533" stroke="#777" stroke-width="8.8"/>
<path d="M354.8,361.3 L339,533" stroke="#f6f6f6" stroke-width="7"/>
<circle cx="441.3" cy="331.3" r="8.5" fill="#f6f6f6" stroke="#888" stroke-width="1"/>
<circle cx="443.5" cy="330.5" r="3.2" fill="none" stroke="#aaa" stroke-width="1"/>
<circle cx="354.8" cy="361.3" r="8.8" fill="#f6f6f6" stroke="#888" stroke-width="1"/>
<circle cx="357" cy="360.5" r="3.2" fill="none" stroke="#aaa" stroke-width="1"/>
</g>
<!-- labels & leaders -->
<rect x="490" y="53.4" width="87.3" height="29.3" fill="#3a77c0"/>
<text x="500" y="73.6" font-size="15.6" fill="#f4f4f4" textLength="67.8" lengthAdjust="spacingAndGlyphs">Ascender</text>
<path d="M490,69 L443.9,69 L411.3,95" fill="none" stroke="#3a77c0" stroke-width="1.6"/>
<text x="558.3" y="139.2" font-size="15.6" font-style="italic" fill="#dcdcdc" textLength="28.7" lengthAdjust="spacingAndGlyphs">Drill</text>
<text x="558.3" y="156.8" font-size="15.6" font-style="italic" fill="#dcdcdc" textLength="82.1" lengthAdjust="spacingAndGlyphs">mechanism</text>
<path d="M571.4,166 L571.4,188.4 L534,188.4" fill="none" stroke="#b4b4b4" stroke-width="1.8"/>
<rect x="64.5" y="293.7" width="88.4" height="29.5" fill="#0a0a0a" stroke="#b8b8b8" stroke-width="1.6"/>
<text x="84.5" y="314.1" font-size="15.6" fill="#ececec" textLength="51.1" lengthAdjust="spacingAndGlyphs">Lander</text>
<path d="M153,309 L223.4,309" fill="none" stroke="#b4b4b4" stroke-width="1.8"/>
</g>
<!-- TEXT LEFT -->
<text x="24.5" y="48.7" font-size="33.3" font-weight="bold" fill="#fafafa" textLength="359" lengthAdjust="spacingAndGlyphs">Chang’e-6 Moon lander</text>
<g font-size="19.6" fill="#e4e4e4">
<text x="25.2" y="87.6" textLength="118.6" lengthAdjust="spacingAndGlyphs">The Chang’e-6</text>
<text x="25" y="111.3" textLength="161.3" lengthAdjust="spacingAndGlyphs">completed its lunar</text>
<text x="25" y="135" textLength="186.6" lengthAdjust="spacingAndGlyphs">landing on the far side</text>
<text x="25" y="158.8" textLength="189.4" lengthAdjust="spacingAndGlyphs">of the Moon on June 2,</text>
<text x="25" y="182.5" textLength="197.8" lengthAdjust="spacingAndGlyphs">as part of its technically</text>
<text x="25" y="206.2" textLength="200.6" lengthAdjust="spacingAndGlyphs">complex 53-day mission</text>
<text x="25" y="229.9" textLength="199.2" lengthAdjust="spacingAndGlyphs">that began a month ago</text>
</g>
<!-- RIGHT PANEL -->
<g id="panel">
<rect x="707.6" y="42.4" width="220.4" height="34.2" fill="none" stroke="#b8b8b8" stroke-width="1.6"/>
<text x="753" y="64" font-size="15.6" font-weight="bold" fill="#f2f2f2" textLength="132.7" lengthAdjust="spacingAndGlyphs">Return procedure</text>
<g fill="#e8e8e8">
<circle cx="721.2" cy="119.6" r="13.2"/>
<circle cx="721.1" cy="190.9" r="13.2"/>
<circle cx="721.3" cy="356.6" r="13.2"/>
<circle cx="721.2" cy="479.6" r="13.2"/>
</g>
<g font-size="17.4" font-weight="bold" fill="#111" text-anchor="middle">
<text x="721.3" y="125.7">1</text>
<text x="721.2" y="197.1">2</text>
<text x="721.4" y="362.5">3</text>
<text x="721.3" y="485.8">4</text>
</g>
<g font-size="15.2" fill="#e2e2e2" lengthAdjust="spacingAndGlyphs">
<text x="745.7" y="117.5" textLength="24.5" lengthAdjust="spacingAndGlyphs">Soil</text>
<text x="745.7" y="135.2" textLength="67.6" lengthAdjust="spacingAndGlyphs">collection</text>
<text x="745.7" y="191.5" textLength="63" lengthAdjust="spacingAndGlyphs">Ascender</text>
<text x="745.7" y="208.5" textLength="62" lengthAdjust="spacingAndGlyphs">detaches</text>
<text x="745.7" y="225.4" textLength="58.3" lengthAdjust="spacingAndGlyphs">from the</text>
<text x="745.7" y="242.2" textLength="42.8" lengthAdjust="spacingAndGlyphs">lander</text>
<text x="745.7" y="353.6" textLength="63" lengthAdjust="spacingAndGlyphs">Ascender</text>
<text x="745.7" y="371.2" textLength="74" lengthAdjust="spacingAndGlyphs">docks with</text>
<text x="745.7" y="388.2" textLength="71.8" lengthAdjust="spacingAndGlyphs">the orbiter</text>
<text x="745.7" y="480.7" textLength="63" lengthAdjust="spacingAndGlyphs">Ascender</text>
<text x="745.7" y="497.5" textLength="60" lengthAdjust="spacingAndGlyphs">transfers</text>
<text x="745.7" y="514.2" textLength="68" lengthAdjust="spacingAndGlyphs">soil to the</text>
<text x="745.7" y="531" textLength="41.3" lengthAdjust="spacingAndGlyphs">return</text>
</g>
<!-- icon 1 -->
<polygon points="879.5,111 876.4,118.5 868.9,121.6 861.4,118.5 858.3,111 861.4,103.5 868.9,100.4 876.4,103.5" fill="#f4b060"/>
<path d="M850.4,112 A18,18 0 0 0 886.4,112 L928,112" fill="none" stroke="#b4b4b4" stroke-width="2"/>
<!-- icon 2 -->
<rect x="856.6" y="175.3" width="32.4" height="28.7" fill="#3b78c2" stroke="#b8c8dc" stroke-width="0.8"/>
<circle cx="872.6" cy="189.2" r="8" fill="#f4b060"/>
<g stroke="#b8b8b8" stroke-width="1.6" stroke-dasharray="3 2.5" fill="none">
<line x1="866.5" y1="209.5" x2="863" y2="222"/>
<line x1="872.6" y1="209.5" x2="872.6" y2="222"/>
<line x1="878.7" y1="209.5" x2="882.2" y2="222"/>
</g>
<g stroke="#b4b4b4" stroke-width="2" fill="none">
<rect x="845.8" y="237" width="59" height="30.6"/>
<path d="M855,267.6 L849.6,283.4 M843,283.4 L856.6,283.4 M872.6,267.6 L872.6,283.4 M865.5,283.4 L879.6,283.4 M893.2,267.6 L898.5,283.4 M892.5,283.4 L905.4,283.4"/>
</g>
<!-- icon 3 -->
<rect x="856.4" y="328.2" width="31.8" height="27.2" fill="#3b78c2" stroke="#b8c8dc" stroke-width="0.8"/>
<polygon points="878.8,341.9 876.9,346.6 872.2,348.6 867.4,346.6 865.5,341.9 867.4,337.1 872.2,335.2 876.9,337.1" fill="#f4b060"/>
<line x1="872.2" y1="356" x2="872.2" y2="381" stroke="#c8c8c8" stroke-width="1.6" stroke-dasharray="2.5 2"/>
<polygon points="866.3,380.8 878,380.8 872.2,390.5" fill="#f4f4f4"/>
<g stroke="#b4b4b4" stroke-width="2" fill="none">
<circle cx="873.5" cy="399" r="26.8"/>
<polygon points="903.5,379 923.8,367.3 932.8,384.2 912.5,394.4"/>
<polygon points="813.4,414.6 834.8,405.2 841.5,422.5 820,432.7"/>
<line x1="899.6" y1="389.5" x2="905.7" y2="386.5"/>
<line x1="839.3" y1="413.5" x2="847.5" y2="409.2"/>
</g>
<circle cx="877.1" cy="410.8" r="13.8" fill="#3b78c2" stroke="#a8c4e4" stroke-width="1"/>
<!-- icon 4 -->
<g stroke="#b4b4b4" stroke-width="2" fill="none">
<circle cx="875.5" cy="523" r="26.8"/>
<polygon points="904.2,499.7 927.5,489.5 935,506.6 913,516.8"/>
<polygon points="817,537 839,527.8 846,545 824,555"/>
<line x1="902" y1="510.5" x2="908.5" y2="507.5"/>
</g>
<polygon points="845.3,490.8 873.4,479.2 883.7,502.5 856.3,515.5" fill="#3b78c2" stroke="#b8c8dc" stroke-width="0.8"/>
<circle cx="864.5" cy="497" r="8.6" fill="none" stroke="#b8d4f0" stroke-width="1.6" stroke-dasharray="2.6 2.2"/>
<circle cx="877.5" cy="527" r="13.5" fill="#3b78c2" stroke="#a8c4e4" stroke-width="1"/>
<circle cx="877.5" cy="527.5" r="6.8" fill="#f4b060"/>
</g>
<rect x="0" y="0" width="950" height="1" fill="#777777"/><rect x="0" y="1" width="950" height="1.5" fill="#040404"/>
<rect x="0" y="0" width="1" height="533" fill="#2a2a2a"/><rect x="0" y="0" width="950" height="1" fill="#777777"/>
</svg>
</body></html>
